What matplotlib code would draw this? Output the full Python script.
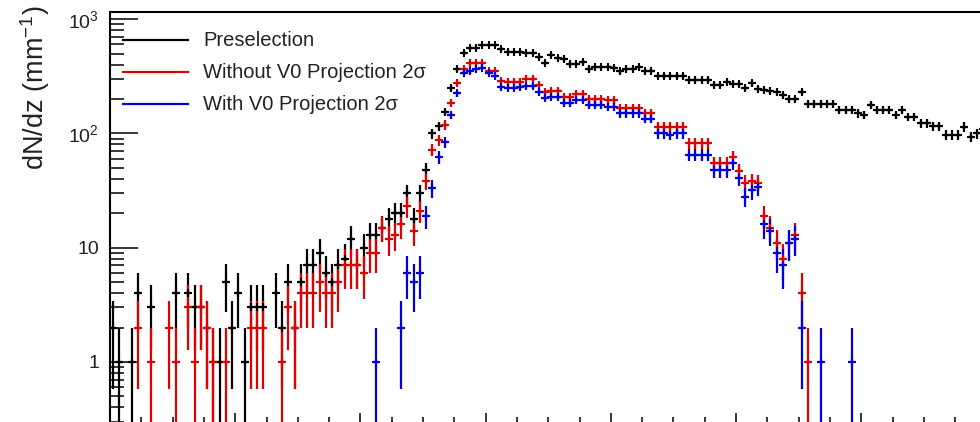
import numpy as np
import matplotlib
matplotlib.use("Agg")
import matplotlib.pyplot as plt
from matplotlib.lines import Line2D
from matplotlib.ticker import FixedLocator, FuncFormatter, NullFormatter

plt.rcParams['font.family'] = ['Liberation Sans', 'DejaVu Sans']
plt.rcParams['mathtext.fontset'] = 'custom'
plt.rcParams['mathtext.rm'] = 'Liberation Sans'
plt.rcParams['mathtext.it'] = 'Liberation Sans:italic'

# ---- data (entries per 1 mm bin) ----
preselection = [
    2, 1, 0, 1, 4, 0, 3, 0, 0, 0,
    4, 0, 4, 3, 3, 2, 1, 1, 5, 2,
    4, 1, 3, 3, 3, 0, 4, 2, 5, 2,
    5, 7, 7, 9, 6, 5, 7, 8, 12, 7,
    10, 13, 13, 15, 18, 20, 20, 30, 18, 30,
    48, 100, 116, 155, 248, 364,
    503, 556, 556, 593, 593, 593,
    548, 515, 515, 515, 504, 504, 465, 415, 488, 455,
    445, 405, 405, 420, 366, 380, 380, 380, 375, 350,
    366, 366, 380, 350, 350, 318, 318, 318, 318, 318,
    293, 293, 293, 293, 265, 265, 282, 270, 270, 250,
    277, 245, 240, 235, 230, 215, 199, 199, 230, 181,
    181, 181, 181, 181, 160, 160, 160, 150, 145, 177,
    160, 160, 160, 145, 160, 139, 139, 123, 123, 116,
    116, 97, 97, 97, 114, 93, 100, 110,
]
without_v0 = [
    0, 0, 0, 0, 2, 0, 1, 0, 0, 2,
    1, 0, 3, 1, 3, 2, 1, 0, 1, 0,
    0, 0, 2, 2, 2, 0, 0, 1, 3, 2,
    4, 4, 4, 5, 4, 4, 5, 7, 7, 7,
    6, 9, 9, 15, 12, 13, 16, 23, 14, 21,
    38, 72, 87, 119, 185, 276,
    365, 413, 413, 413, 350, 350,
    290, 282, 282, 282, 298, 298, 265, 230, 235, 235,
    208, 208, 220, 220, 200, 200, 200, 195, 195, 168,
    168, 168, 168, 150, 150, 114, 114, 114, 114, 114,
    82, 82, 82, 82, 55, 55, 55, 62, 47, 37,
    38, 37, 19, 15, 11, 8, 11, 13, 4, 1,
]
with_v0 = [
    0, 0, 0, 0, 0, 0, 0, 0, 0, 0,
    0, 0, 0, 0, 0, 0, 0, 0, 0, 0,
    0, 0, 0, 0, 0, 0, 0, 0, 0, 0,
    0, 0, 0, 0, 0, 0, 0, 0, 0, 0,
    0, 0, 1, 0, 0, 0, 2, 6, 5, 6,
    19, 33, 62, 84, 145, 225,
    340, 350, 366, 375, 340, 320,
    255, 250, 250, 255, 260, 260, 232, 205, 210, 210,
    185, 185, 195, 195, 178, 178, 178, 170, 170, 150,
    150, 150, 150, 135, 135, 100, 100, 97, 100, 100,
    65, 65, 65, 65, 48, 48, 48, 55, 41, 28,
    32, 34, 16, 14, 9, 7, 11, 12, 2, 0,
    0, 1, 0, 0, 0, 0, 1,
]
labels = ["Preselection", "Without V0 Projection 2σ", "With V0 Projection 2σ"]
colors = ["black", "#e00000", "#0000e0"]
ylabel = "dN/dz (mm$^{-1}$)"
x_min, x_max, bin_w = 0, 140, 1.0

W, H = 980, 422
fig = plt.figure(figsize=(W / 100, H / 100), dpi=100)
ax_l, ax_r, ax_t, ax_b = 110, 986.4, 12, 423
ax = fig.add_axes([ax_l / W, 1 - ax_b / H, (ax_r - ax_l) / W, (ax_b - ax_t) / H])
ax.set_yscale('log', nonpositive='clip')
ax.set_xlim(x_min, x_max)
y_top = 10 ** ((362 - 12) / 114.3)
y_bot = 10 ** ((362 - 423) / 114.3)
ax.set_ylim(y_bot, y_top)

for vals, col in zip([preselection, without_v0, with_v0], colors):
    v = np.asarray(vals, dtype=float)
    x = x_min + bin_w * (np.arange(len(v)) + 0.5)
    m = v > 0
    x, v = x[m], v[m]
    err = np.sqrt(v)
    lo = np.minimum(err, v - 1e-4)
    ax.errorbar(x, v, yerr=[lo, err], xerr=bin_w / 2, fmt='+', color=col,
                ms=5.5, mew=1.5, ecolor=col, elinewidth=1.6, capsize=0)

for s in ['right', 'bottom']:
    ax.spines[s].set_visible(False)
ax.spines['top'].set_linewidth(1.5)
ax.spines['left'].set_linewidth(1.5)

ax.yaxis.set_major_locator(FixedLocator([0.1, 1, 10, 100, 1000]))
minors = [k * 10.0 ** e for e in range(-1, 3) for k in range(2, 10)]
ax.yaxis.set_minor_locator(FixedLocator(minors))
ax.yaxis.set_minor_formatter(NullFormatter())
fmt_map = {1: '1', 10: '10', 100: '$10^{2}$', 1000: '$10^{3}$'}
ax.yaxis.set_major_formatter(FuncFormatter(lambda v, p: fmt_map.get(int(round(v)) if v >= 1 else -1, '')))
ax.tick_params(axis='y', which='major', direction='in', length=20, width=1.1,
               labelsize=14, pad=8, labelcolor='#222222')
ax.tick_params(axis='y', which='minor', direction='in', length=10, width=1.1)
ax.xaxis.set_major_locator(FixedLocator(np.arange(0, 161, 20)))
ax.xaxis.set_minor_locator(FixedLocator(np.arange(0, 161, 5)))
ax.tick_params(axis='x', which='major', direction='in', length=7.5, width=1.1, labelbottom=False)
ax.tick_params(axis='x', which='minor', direction='in', length=4, width=1.1)
ax.tick_params(top=False, right=False)

fig.text(35 / W, 1 - 5 / H, ylabel, rotation=90, ha='center', va='top',
         fontsize=19.5, color='#222222')

# legend
for i, (lab, col) in enumerate(zip(labels, colors)):
    yy = 1 - (40 + 32 * i) / H
    fig.add_artist(Line2D([123 / W, 188 / W], [yy, yy], color=col, lw=1.6,
                          transform=fig.transFigure))
    fig.text(203 / W, yy, lab, ha='left', va='center', fontsize=14.5, color='#222222')

fig.savefig("out.png", dpi=100)
